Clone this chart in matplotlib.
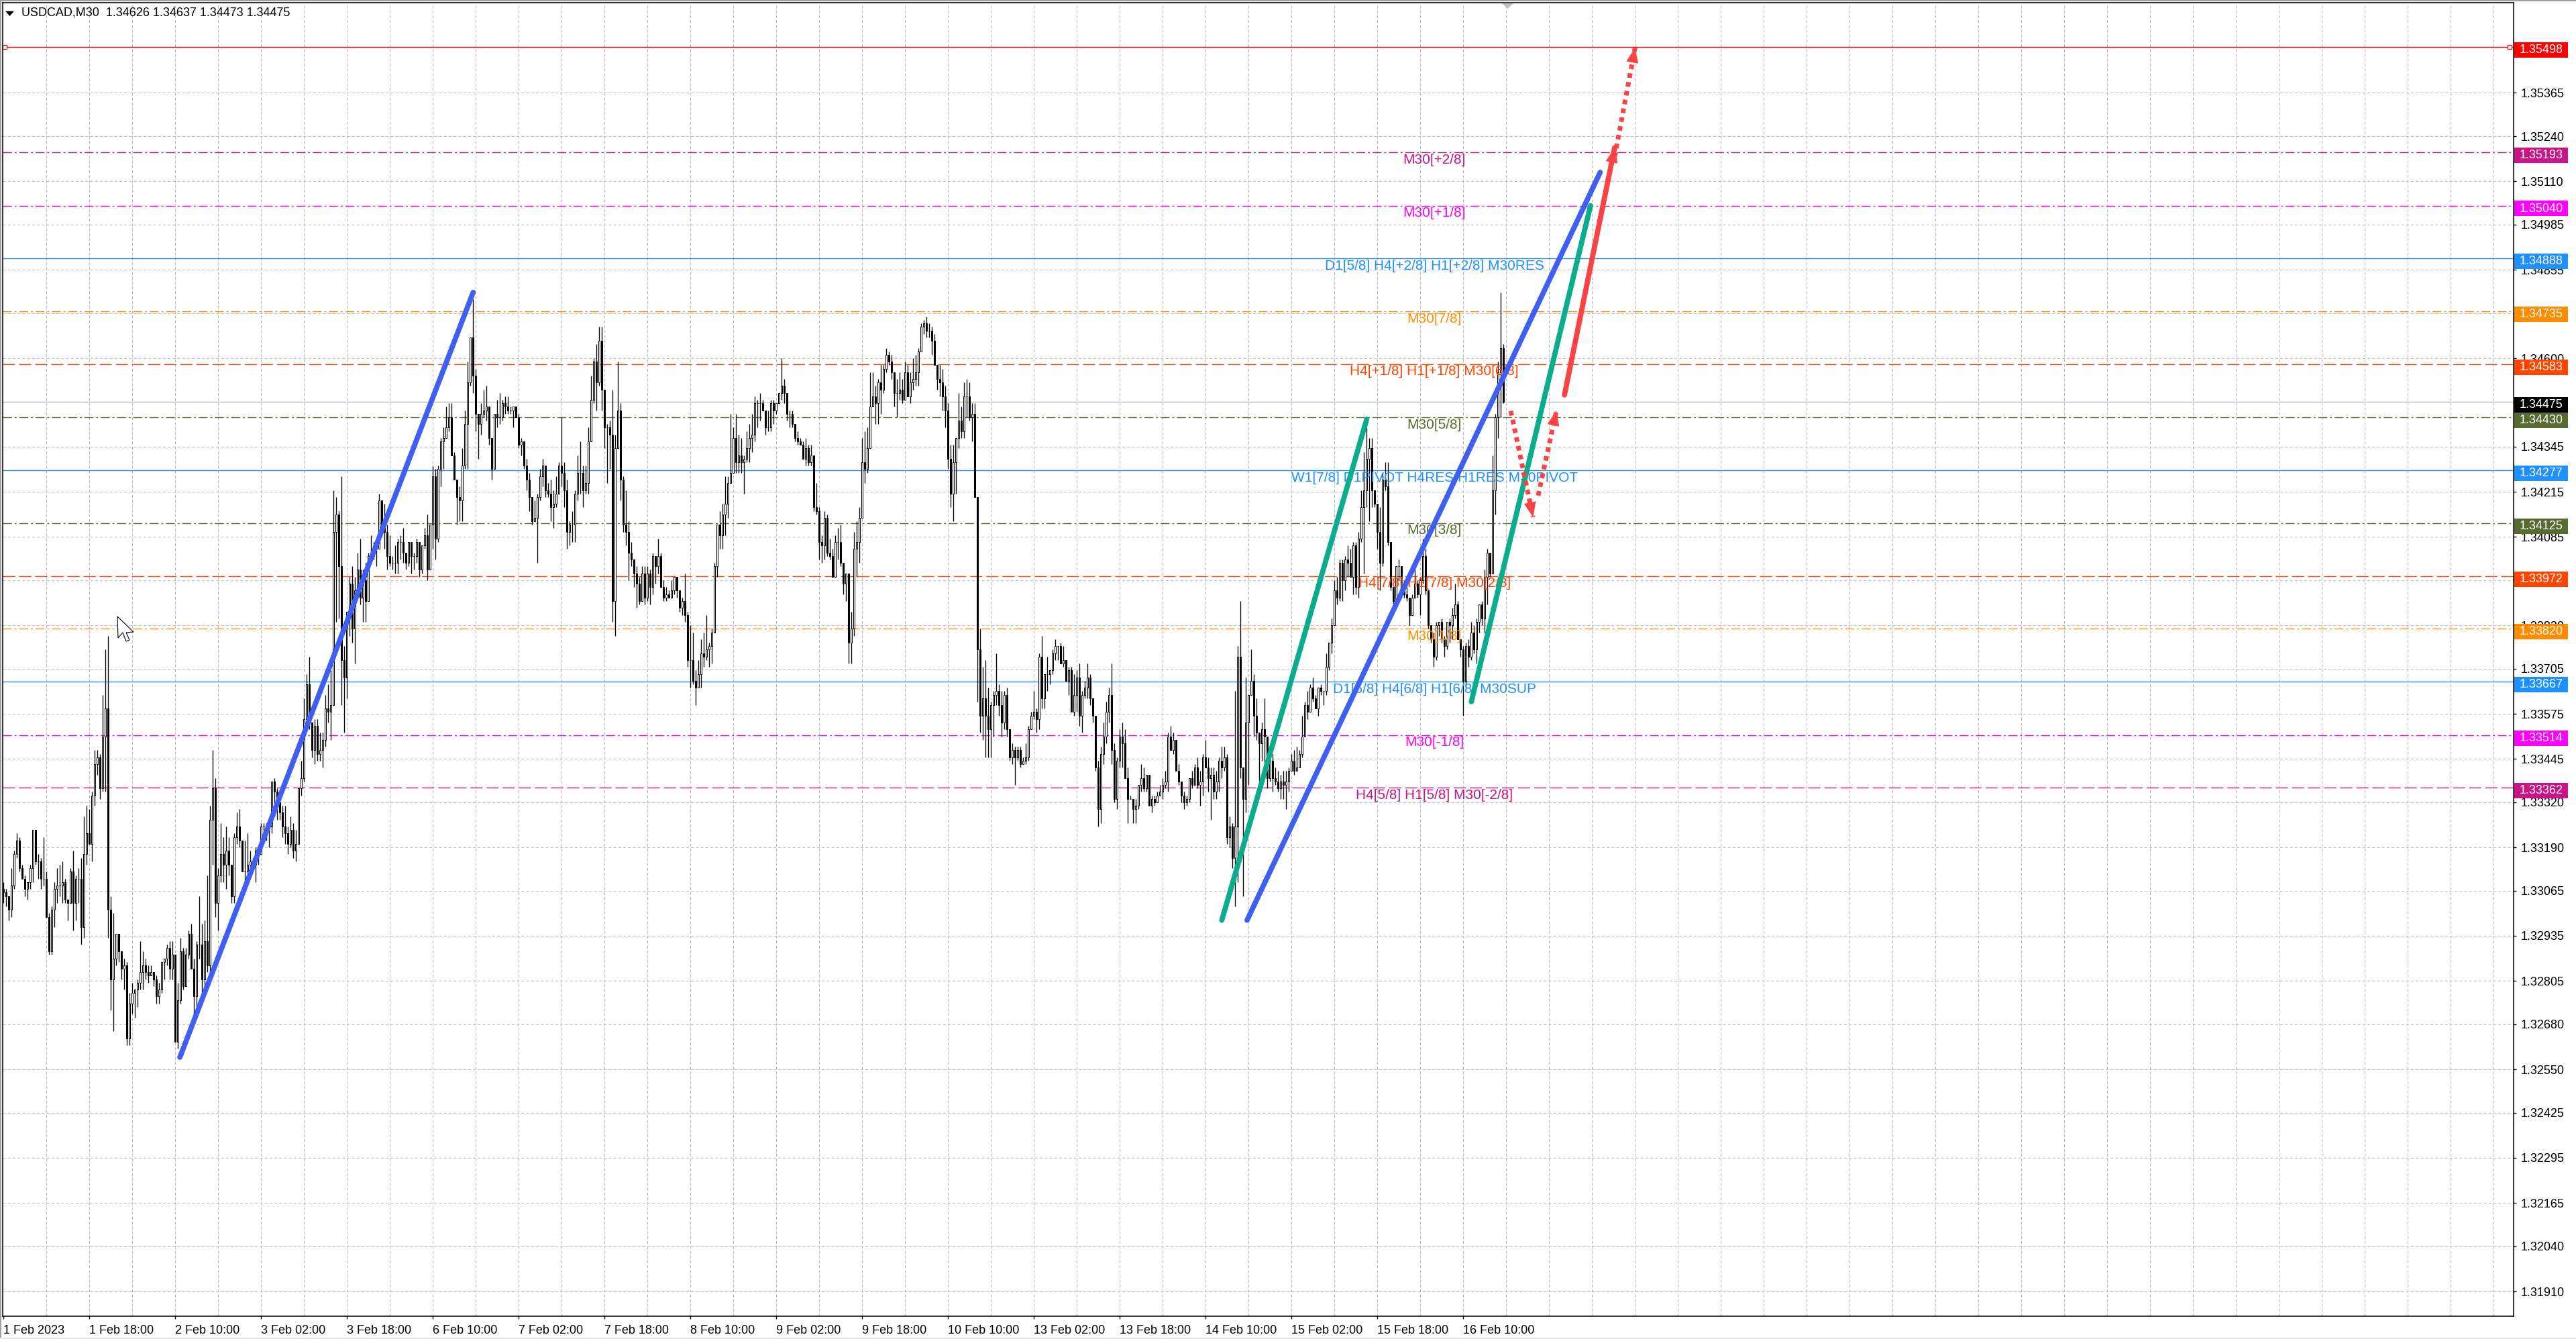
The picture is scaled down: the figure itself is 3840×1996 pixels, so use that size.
import matplotlib
matplotlib.use('Agg')
import matplotlib.pyplot as plt
from matplotlib.patches import Rectangle, Polygon
from matplotlib.transforms import IdentityTransform, blended_transform_factory

# candle data in pips: 3306 means 1.3306
first_open = 3307
closes = [
    3306, 3305, 3301, 3308, 3317, 3321, 3313, 3310, 3307, 3309,
    3313, 3324, 3315, 3315, 3310, 3310, 3299, 3289, 3301, 3307,
    3308, 3308, 3309, 3304, 3303, 3312, 3303, 3310, 3310, 3296,
    3317, 3323, 3320, 3334, 3343, 3345, 3336, 3351, 3359, 3301,
    3281, 3287, 3294, 3289, 3284, 3285, 3264, 3274, 3277, 3278,
    3280, 3283, 3285, 3283, 3282, 3283, 3281, 3276, 3278, 3286,
    3287, 3290, 3284, 3288, 3263, 3275, 3289, 3279, 3288, 3294,
    3284, 3276, 3291, 3291, 3281, 3292, 3285, 3327, 3336, 3303,
    3311, 3317, 3314, 3318, 3314, 3305, 3322, 3325, 3321, 3312,
    3312, 3314, 3315, 3314, 3318, 3317, 3325, 3325, 3325, 3325,
    3338, 3335, 3332, 3329, 3325, 3323, 3320, 3324, 3318, 3320,
    3336, 3339, 3356, 3366, 3355, 3347, 3354, 3346, 3347, 3350,
    3359, 3358, 3360, 3410, 3415, 3400, 3373, 3368, 3387, 3395,
    3382, 3393, 3399, 3391, 3396, 3390, 3403, 3403, 3405, 3405,
    3419, 3412, 3410, 3403, 3401, 3401, 3401, 3407, 3407, 3404,
    3401, 3407, 3403, 3403, 3407, 3399, 3406, 3409, 3399, 3412,
    3426, 3408, 3428, 3436, 3437, 3440, 3443, 3432, 3425, 3420,
    3419, 3429, 3441, 3453, 3466, 3455, 3444, 3441, 3444, 3445,
    3446, 3437, 3428, 3444, 3443, 3443, 3447, 3446, 3445, 3445,
    3446, 3443, 3435, 3436, 3429, 3425, 3420, 3413, 3414, 3420,
    3426, 3429, 3422, 3421, 3417, 3418, 3421, 3429, 3427, 3422,
    3410, 3412, 3412, 3421, 3427, 3427, 3422, 3424, 3436, 3448,
    3459, 3453, 3465, 3451, 3440, 3440, 3438, 3390, 3434, 3445,
    3425, 3412, 3410, 3404, 3402, 3398, 3395, 3390, 3398, 3391,
    3398, 3394, 3403, 3400, 3403, 3394, 3391, 3392, 3391, 3393,
    3397, 3393, 3388, 3390, 3386, 3373, 3373, 3367, 3365, 3369,
    3375, 3374, 3376, 3377, 3381, 3400, 3412, 3409, 3415, 3418,
    3424, 3427, 3437, 3430, 3432, 3430, 3431, 3434, 3437, 3438,
    3447, 3447, 3447, 3445, 3440, 3440, 3447, 3445, 3447, 3450,
    3452, 3450, 3444, 3444, 3441, 3437, 3436, 3435, 3431, 3434,
    3430, 3432, 3417, 3416, 3407, 3406, 3414, 3404, 3403, 3397,
    3407, 3407, 3401, 3395, 3398, 3378, 3382, 3405, 3407, 3414,
    3430, 3428, 3434, 3446, 3449, 3447, 3453, 3451, 3457, 3461,
    3459, 3456, 3450, 3450, 3451, 3448, 3456, 3449, 3453, 3454,
    3456, 3462, 3469, 3470, 3468, 3468, 3465, 3458, 3454, 3453,
    3449, 3445, 3431, 3421, 3430, 3437, 3442, 3439, 3449, 3449,
    3443, 3444, 3420, 3376, 3357, 3362, 3357, 3353, 3360, 3363,
    3364, 3360, 3355, 3363, 3353, 3345, 3347, 3345, 3347, 3343,
    3344, 3345, 3353, 3357, 3358, 3356, 3374, 3362, 3369, 3369,
    3370, 3375, 3377, 3377, 3372, 3373, 3367, 3370, 3358, 3363,
    3368, 3357, 3363, 3365, 3368, 3362, 3357, 3342, 3330, 3346,
    3351, 3358, 3363, 3347, 3333, 3344, 3351, 3349, 3339, 3333,
    3333, 3330, 3331, 3337, 3339, 3336, 3340, 3331, 3333, 3332,
    3334, 3335, 3337, 3338, 3351, 3347, 3350, 3341, 3338, 3334,
    3332, 3333, 3339, 3337, 3342, 3337, 3338, 3345, 3342, 3339,
    3340, 3335, 3338, 3344, 3342, 3345, 3322, 3325, 3316, 3325,
    3374, 3342, 3333, 3355, 3363, 3367, 3357, 3352, 3349, 3353,
    3351, 3339, 3344, 3339, 3338, 3336, 3338, 3337, 3338, 3341,
    3344, 3341, 3342, 3346, 3351, 3360, 3358, 3365, 3362, 3359,
    3365, 3364, 3364, 3371, 3378, 3383, 3393, 3391, 3401, 3396,
    3402, 3401, 3397, 3406, 3394, 3408, 3417, 3422, 3431, 3434,
    3422, 3418, 3410, 3401, 3425, 3423, 3407, 3394, 3390, 3400,
    3400, 3393, 3392, 3391, 3386, 3391, 3395, 3392, 3396, 3403,
    3393, 3383, 3379, 3374, 3383, 3384, 3379, 3377, 3384, 3383,
    3386, 3389, 3379, 3376, 3367, 3377, 3374, 3381, 3376, 3384,
    3389, 3385, 3397, 3404, 3398, 3422, 3443, 3456, 3463, 3447.5,
]
highs = [
    3309, 3307, 3305, 3313, 3318, 3323, 3322, 3314, 3311, 3309,
    3314, 3324, 3324, 3317, 3316, 3322, 3312, 3300, 3302, 3309,
    3313, 3314, 3315, 3310, 3304, 3313, 3318, 3311, 3313, 3316,
    3328, 3331, 3330, 3335, 3347, 3347, 3346, 3363, 3376, 3380,
    3305, 3300, 3294, 3294, 3287, 3287, 3286, 3277, 3280, 3278,
    3281, 3292, 3289, 3287, 3285, 3285, 3283, 3282, 3280, 3286,
    3287, 3291, 3292, 3292, 3288, 3280, 3293, 3290, 3290, 3295,
    3297, 3287, 3292, 3305, 3297, 3298, 3311, 3331, 3347, 3339,
    3313, 3326, 3322, 3325, 3322, 3314, 3323, 3329, 3330, 3321,
    3321, 3323, 3318, 3316, 3319, 3319, 3326, 3326, 3326, 3326,
    3338, 3339, 3336, 3332, 3331, 3331, 3325, 3328, 3326, 3324,
    3336, 3344, 3362, 3369, 3374, 3354, 3356, 3356, 3352, 3352,
    3363, 3366, 3370, 3422, 3420, 3416, 3426, 3377, 3387, 3397,
    3400, 3397, 3404, 3408, 3399, 3401, 3404, 3409, 3407, 3407,
    3421, 3419, 3418, 3412, 3409, 3403, 3406, 3408, 3409, 3411,
    3404, 3407, 3407, 3404, 3408, 3407, 3406, 3411, 3415, 3412,
    3429, 3428, 3429, 3437, 3440, 3446, 3447, 3447, 3433, 3425,
    3423, 3434, 3445, 3459, 3466, 3477, 3457, 3444, 3447, 3451,
    3452, 3446, 3437, 3444, 3448, 3450, 3448, 3449, 3449, 3446,
    3446, 3446, 3444, 3437, 3436, 3431, 3427, 3420, 3419, 3421,
    3428, 3431, 3429, 3424, 3425, 3422, 3426, 3430, 3443, 3430,
    3425, 3413, 3416, 3422, 3432, 3436, 3429, 3429, 3440, 3455,
    3460, 3464, 3469, 3469, 3451, 3441, 3442, 3451, 3438, 3459,
    3447, 3426, 3422, 3413, 3407, 3402, 3400, 3397, 3400, 3400,
    3400, 3399, 3404, 3403, 3408, 3404, 3396, 3394, 3393, 3396,
    3397, 3397, 3393, 3391, 3398, 3387, 3383, 3381, 3370, 3373,
    3379, 3381, 3386, 3378, 3382, 3401, 3412, 3416, 3418, 3426,
    3426, 3444, 3440, 3444, 3438, 3437, 3432, 3439, 3441, 3444,
    3449, 3448, 3450, 3448, 3445, 3445, 3448, 3448, 3447, 3450,
    3460, 3454, 3450, 3445, 3445, 3441, 3439, 3437, 3436, 3437,
    3435, 3435, 3432, 3424, 3417, 3409, 3416, 3415, 3408, 3405,
    3409, 3411, 3412, 3401, 3398, 3398, 3387, 3410, 3413, 3417,
    3437, 3439, 3440, 3456, 3456, 3452, 3454, 3458, 3458, 3463,
    3462, 3461, 3451, 3454, 3456, 3454, 3459, 3458, 3456, 3460,
    3461, 3463, 3470, 3471, 3472, 3470, 3469, 3467, 3458, 3458,
    3457, 3452, 3447, 3435, 3435, 3437, 3450, 3446, 3453, 3454,
    3453, 3447, 3447, 3420, 3382, 3371, 3373, 3365, 3361, 3364,
    3375, 3366, 3364, 3364, 3365, 3353, 3349, 3348, 3348, 3348,
    3345, 3349, 3354, 3358, 3364, 3359, 3375, 3380, 3369, 3374,
    3370, 3376, 3379, 3377, 3378, 3377, 3373, 3371, 3371, 3369,
    3370, 3372, 3364, 3367, 3372, 3369, 3362, 3357, 3344, 3348,
    3355, 3361, 3365, 3372, 3349, 3345, 3353, 3355, 3353, 3342,
    3334, 3333, 3333, 3337, 3343, 3342, 3340, 3340, 3334, 3334,
    3335, 3337, 3339, 3341, 3352, 3354, 3352, 3350, 3343, 3338,
    3335, 3334, 3339, 3341, 3343, 3345, 3341, 3346, 3350, 3345,
    3342, 3342, 3341, 3345, 3348, 3348, 3346, 3328, 3326, 3364,
    3377, 3390, 3342, 3368, 3363, 3376, 3369, 3362, 3352, 3355,
    3362, 3351, 3346, 3346, 3342, 3341, 3340, 3341, 3341, 3342,
    3346, 3347, 3348, 3347, 3357, 3361, 3364, 3366, 3368, 3363,
    3365, 3366, 3364, 3375, 3378, 3385, 3396, 3397, 3402, 3402,
    3403, 3406, 3405, 3407, 3407, 3410, 3422, 3433, 3440, 3437,
    3437, 3422, 3418, 3417, 3427, 3430, 3430, 3407, 3394, 3400,
    3402, 3400, 3396, 3394, 3388, 3392, 3399, 3396, 3397, 3408,
    3405, 3393, 3383, 3381, 3384, 3384, 3385, 3380, 3384, 3385,
    3388, 3395, 3390, 3379, 3377, 3378, 3379, 3384, 3383, 3385,
    3389, 3390, 3399, 3405, 3404, 3432, 3444, 3459, 3479, 3464,
]
lows = [
    3303, 3302, 3298, 3299, 3307, 3316, 3312, 3310, 3305, 3304,
    3307, 3309, 3314, 3310, 3307, 3308, 3299, 3288, 3288, 3296,
    3303, 3305, 3303, 3303, 3298, 3303, 3295, 3298, 3303, 3291,
    3293, 3314, 3320, 3315, 3331, 3340, 3333, 3335, 3335, 3293,
    3272, 3266, 3285, 3286, 3281, 3278, 3262, 3262, 3271, 3270,
    3273, 3278, 3278, 3281, 3280, 3282, 3279, 3274, 3274, 3277,
    3281, 3285, 3281, 3281, 3263, 3261, 3274, 3278, 3279, 3287,
    3284, 3270, 3273, 3287, 3277, 3278, 3283, 3283, 3314, 3299,
    3295, 3309, 3309, 3307, 3311, 3303, 3303, 3320, 3319, 3312,
    3308, 3311, 3312, 3313, 3309, 3314, 3317, 3323, 3321, 3319,
    3323, 3328, 3327, 3327, 3322, 3320, 3317, 3319, 3316, 3315,
    3322, 3334, 3338, 3355, 3353, 3345, 3343, 3344, 3344, 3342,
    3348, 3355, 3350, 3360, 3384, 3385, 3360, 3352, 3362, 3380,
    3378, 3372, 3391, 3389, 3384, 3384, 3390, 3401, 3402, 3400,
    3411, 3411, 3405, 3399, 3400, 3399, 3398, 3398, 3402, 3401,
    3399, 3400, 3398, 3399, 3401, 3397, 3398, 3405, 3396, 3399,
    3405, 3402, 3407, 3423, 3428, 3437, 3439, 3432, 3425, 3412,
    3413, 3413, 3428, 3428, 3452, 3450, 3439, 3431, 3438, 3443,
    3442, 3435, 3425, 3428, 3440, 3441, 3442, 3444, 3444, 3444,
    3440, 3443, 3434, 3432, 3428, 3422, 3416, 3412, 3413, 3401,
    3419, 3423, 3420, 3420, 3413, 3411, 3417, 3421, 3423, 3417,
    3405, 3406, 3407, 3407, 3419, 3421, 3417, 3421, 3421, 3436,
    3447, 3445, 3452, 3445, 3434, 3424, 3428, 3384, 3380, 3434,
    3419, 3410, 3406, 3396, 3400, 3394, 3388, 3389, 3390, 3389,
    3390, 3389, 3392, 3395, 3398, 3394, 3390, 3390, 3391, 3391,
    3392, 3391, 3387, 3386, 3384, 3371, 3365, 3366, 3360, 3365,
    3365, 3371, 3373, 3371, 3372, 3381, 3397, 3405, 3405, 3409,
    3414, 3424, 3427, 3427, 3427, 3427, 3421, 3430, 3430, 3433,
    3436, 3440, 3442, 3445, 3438, 3439, 3439, 3441, 3444, 3447,
    3448, 3447, 3442, 3440, 3440, 3436, 3435, 3435, 3431, 3429,
    3429, 3429, 3416, 3415, 3402, 3401, 3402, 3403, 3402, 3397,
    3397, 3402, 3400, 3392, 3390, 3372, 3372, 3380, 3397, 3401,
    3415, 3424, 3427, 3434, 3446, 3441, 3441, 3444, 3450, 3456,
    3458, 3454, 3446, 3443, 3448, 3447, 3448, 3449, 3447, 3451,
    3452, 3452, 3462, 3467, 3466, 3466, 3461, 3458, 3451, 3449,
    3445, 3440, 3428, 3417, 3413, 3421, 3434, 3437, 3437, 3443,
    3442, 3436, 3420, 3361, 3352, 3350, 3345, 3345, 3345, 3351,
    3360, 3357, 3351, 3353, 3351, 3344, 3343, 3337, 3344, 3342,
    3343, 3343, 3344, 3353, 3356, 3352, 3353, 3359, 3359, 3364,
    3366, 3369, 3373, 3373, 3372, 3371, 3367, 3363, 3358, 3357,
    3358, 3354, 3352, 3362, 3362, 3360, 3355, 3341, 3325, 3326,
    3343, 3349, 3355, 3343, 3332, 3330, 3342, 3342, 3339, 3326,
    3333, 3326, 3326, 3330, 3335, 3335, 3335, 3331, 3329, 3331,
    3332, 3334, 3333, 3336, 3335, 3347, 3346, 3341, 3337, 3332,
    3330, 3331, 3332, 3336, 3337, 3336, 3331, 3334, 3342, 3335,
    3327, 3333, 3333, 3335, 3339, 3341, 3320, 3319, 3313, 3302,
    3309, 3339, 3305, 3329, 3337, 3363, 3351, 3350, 3338, 3344,
    3341, 3336, 3338, 3335, 3337, 3335, 3333, 3333, 3330, 3335,
    3341, 3340, 3341, 3342, 3345, 3351, 3356, 3358, 3361, 3359,
    3357, 3363, 3360, 3363, 3370, 3375, 3383, 3389, 3390, 3390,
    3393, 3397, 3397, 3392, 3392, 3391, 3407, 3398, 3417, 3413,
    3417, 3417, 3405, 3393, 3400, 3422, 3406, 3393, 3389, 3390,
    3396, 3391, 3391, 3390, 3383, 3386, 3391, 3391, 3386, 3395,
    3392, 3382, 3378, 3371, 3373, 3380, 3378, 3374, 3376, 3378,
    3379, 3385, 3379, 3374, 3357, 3365, 3371, 3373, 3375, 3372,
    3381, 3383, 3381, 3389, 3397, 3399, 3415, 3437, 3443, 3447,
]

# horizontal levels
level_prices = [1.35498, 1.35193, 1.35040, 1.34888, 1.34735, 1.34583, 1.34475, 1.34430,
                1.34277, 1.34125, 1.33972, 1.33820, 1.33667, 1.33514, 1.33362]
level_colors = ['#FF0000', '#C71585', '#FF00FF', '#1E90FF', '#FF8C00', '#FF4500', '#000000', '#556B2F',
                '#1E90FF', '#556B2F', '#FF4500', '#FF8C00', '#1E90FF', '#FF00FF', '#C71585']
level_styles = ['solid', 'dashdot', 'dashdot', 'solid', 'dashdot', 'dash', 'solid', 'dashdot',
                'solid', 'dashdot', 'dash', 'dashdot', 'solid', 'dashdot', 'dash']
level_labels = ['', 'M30[+2/8]', 'M30[+1/8]', 'D1[5/8] H4[+2/8] H1[+2/8] M30RES', 'M30[7/8]',
                'H4[+1/8] H1[+1/8] M30[6/8]', '', 'M30[5/8]', 'W1[7/8] D1PIVOT H4RES H1RES M30PIVOT',
                'M30[3/8]', 'H4[7/8] H1[7/8] M30[2/8]', 'M30[1/8]', 'D1[6/8] H4[6/8] H1[6/8] M30SUP',
                'M30[-1/8]', 'H4[5/8] H1[5/8] M30[-2/8]']
label_bar = 533.2

price_ticks = [1.35365, 1.35240, 1.35110, 1.34985, 1.34855, 1.34730, 1.34600, 1.34475, 1.34345, 1.34215,
               1.34085, 1.33960, 1.33830, 1.33705, 1.33575, 1.33445, 1.33320, 1.33190, 1.33065, 1.32935,
               1.32805, 1.32680, 1.32550, 1.32425, 1.32295, 1.32165, 1.32040, 1.31910]
time_labels = ['1 Feb 2023', '1 Feb 18:00', '2 Feb 10:00', '3 Feb 02:00', '3 Feb 18:00', '6 Feb 10:00',
               '7 Feb 02:00', '7 Feb 18:00', '8 Feb 10:00', '9 Feb 02:00', '9 Feb 18:00', '10 Feb 10:00',
               '13 Feb 02:00', '13 Feb 18:00', '14 Feb 10:00', '15 Feb 02:00', '15 Feb 18:00', '16 Feb 10:00']

# drawn lines as (bar, price) pairs
blue_lines = [((65.7, 1.32585), (175, 1.34790)), ((463.4, 1.32980), (595, 1.35136))]
green_lines = [((454, 1.32980), (508, 1.34424)), ((547, 1.33610), (591.4, 1.35040))]
red_solid = ((581.7, 1.34494), (600.4, 1.35207))
red_dotted = [((561.7, 1.34448), (570, 1.34142)), ((571.9, 1.34204), (578.7, 1.34449)),
              ((600.4, 1.35180), (608, 1.35495))]

plt.rcParams['font.family'] = ['Liberation Sans', 'DejaVu Sans']
plt.rcParams['lines.scale_dashes'] = False

W, H = 3840, 1996
L, R, T, B = 4, 3746.7, 4, 1962
fig = plt.figure(figsize=(W / 100, H / 100), dpi=100, facecolor='white')
ax = fig.add_axes([L / W, 1 - B / H, (R - L) / W, (B - T) / H])
ax.set_xlim((L - 5.33) / 4, (R - 5.33) / 4)
ax.set_ylim(1.318385, 1.35625)

# grid
ax.set_axisbelow(True)
ax.xaxis.remove_overlapping_locs = False
ax.set_xticks(range(0, len(time_labels) * 32, 32))
ax.set_xticklabels(time_labels, ha='left', fontsize=13)
ax.set_xticks(range(16, 929, 16), minor=True)
ax.tick_params(axis='x', which='major', length=3, width=1, pad=6)
ax.tick_params(axis='x', which='minor', length=0)
ax.yaxis.tick_right()
ax.set_yticks(price_ticks)
ax.set_yticklabels(['%.5f' % p for p in price_ticks], fontsize=13)
ax.tick_params(axis='y', length=3, width=1, pad=5)
grid_dash = (0, (3, 2.2))
ax.grid(which='minor', axis='x', color='#c0c0c0', lw=0.8, ls=grid_dash)
ax.grid(which='major', axis='y', color='#c0c0c0', lw=0.8, ls=grid_dash)
for s in ax.spines.values():
    s.set_linewidth(1.1)

# levels
styles = {'solid': '-', 'dash': (0, (13, 4.3)), 'dashdot': (0, (9.5, 3, 2, 3))}
for p, c, st, lab in zip(level_prices, level_colors, level_styles, level_labels):
    if c == '#000000':
        ax.axhline(p, color='#c0c0c0', lw=1.0, zorder=1.5)
    else:
        ax.axhline(p, color=c, lw=1.0, ls=styles[st], zorder=1.5)
    if lab:
        ax.annotate(lab, (label_bar, p), xytext=(0, -8), textcoords='offset points', color=c,
                    fontsize=15, ha='center', va='center', zorder=4)

# red line end squares
ax.plot([0.4, 934], [1.35498, 1.35498], ls='', marker='s', ms=4, mfc='white', mec='#FF0000', mew=0.9, zorder=2)

# candles
opens = [first_open] + closes[:-1]
xs = list(range(len(closes)))
o = [1 + v / 1e4 for v in opens]
c = [1 + v / 1e4 for v in closes]
hi = [1 + v / 1e4 for v in highs]
lo = [1 + v / 1e4 for v in lows]
ax.vlines(xs, lo, hi, color='black', lw=0.95, zorder=2.5)
bottoms = [min(a, b) for a, b in zip(o, c)]
heights = [abs(a - b) for a, b in zip(o, c)]
faces = ['white' if b >= a else 'black' for a, b in zip(o, c)]
ax.bar(xs, heights, bottom=bottoms, width=0.5, color=faces, edgecolor='black', linewidth=0.75, zorder=3)

# trend lines
for a, b in blue_lines:
    ax.plot([a[0], b[0]], [a[1], b[1]], color='#3F5FF2', lw=5.6, solid_capstyle='round', zorder=5)
for a, b in green_lines:
    ax.plot([a[0], b[0]], [a[1], b[1]], color='#0AAC8E', lw=5.6, solid_capstyle='round', zorder=5.1)


def head(a, b):
    mid = (a[0] + (b[0] - a[0]) * 0.5, a[1] + (b[1] - a[1]) * 0.5)
    ax.annotate('', xy=b, xytext=mid, zorder=5.3,
                arrowprops=dict(arrowstyle='-|>,head_length=16,head_width=6.5', mutation_scale=1,
                                color='#FB4245', lw=0, shrinkA=0, shrinkB=0))


ax.plot([red_solid[0][0], red_solid[1][0]], [red_solid[0][1], red_solid[1][1]], color='#FB4245', lw=5.6,
        solid_capstyle='round', zorder=5.2)
head(*red_solid)
for a, b in red_dotted:
    ax.plot([a[0], b[0]], [a[1], b[1]], color='#FB4245', lw=5, ls=(0, (5, 4.6)), zorder=5.2)
    head(a, b)

# price tags on the right
tag_tr = blended_transform_factory(ax.transAxes, ax.transData)
tag_x = 1 + 1.3 / (R - L)
tag_w = 80 / (R - L)
for p, col in zip(level_prices, level_colors):
    ax.add_patch(Rectangle((tag_x, p - 0.000087 - 0.000222), tag_w, 0.000445, transform=tag_tr,
                           facecolor=col, edgecolor='none', clip_on=False, zorder=8))
    ax.text(tag_x + tag_w / 2, p - 0.000087, '%.5f' % p, transform=tag_tr, color='white', fontsize=13,
            ha='center', va='center', clip_on=False, zorder=9)

# header
fig.text(32 / W, 1 - 19 / H, 'USDCAD,M30  1.34626 1.34637 1.34473 1.34475', fontsize=13, color='black',
         ha='left', va='center')
fig.patches.append(Polygon([(8 / W, 1 - 16.5 / H), (21 / W, 1 - 16.5 / H), (14.5 / W, 1 - 24 / H)],
                           transform=fig.transFigure, facecolor='black', edgecolor='none'))

# mouse cursor left on the screenshot
cursor = [(175, 919), (199, 942), (188, 943), (193, 954), (188, 956), (183, 943), (176, 951)]
fig.patches.append(Polygon([(x, H - y) for x, y in cursor], transform=IdentityTransform(),
                           facecolor='white', edgecolor='black', lw=0.8, zorder=10))

# chart shift marker and window edges
fig.patches.append(Polygon([(2239 / W, 1 - 5 / H), (2256 / W, 1 - 5 / H), (2247.5 / W, 1 - 13 / H)],
                           transform=fig.transFigure, facecolor='#c0c0c0', edgecolor='none', zorder=10))
fig.patches.append(Rectangle((0, 1 - 2 / H), 1, 2 / H, transform=fig.transFigure, facecolor='#a0a0a0', edgecolor='none'))
fig.patches.append(Rectangle((0, 0), 2 / W, 1, transform=fig.transFigure, facecolor='#a0a0a0', edgecolor='none'))
fig.patches.append(Rectangle((0, 0), 1, 2.5 / H, transform=fig.transFigure, facecolor='#e8e8e8', edgecolor='none'))

print(len(closes), len(highs), len(lows))
fig.savefig('out.png', dpi=100)
